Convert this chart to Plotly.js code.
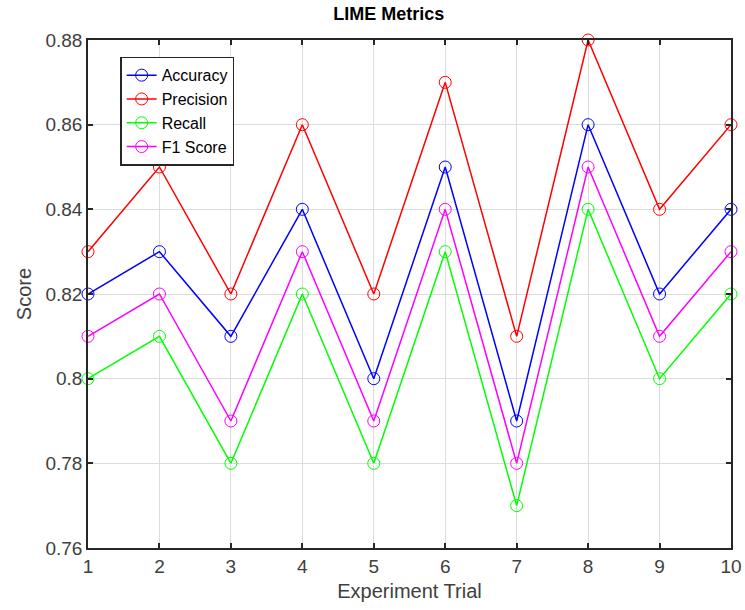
<!DOCTYPE html>
<html><head><meta charset="utf-8">
<script src="https://cdn.plot.ly/plotly-3.0.1.min.js"></script>
<style>body{margin:0;background:#fff}#c{width:745px;height:610px}</style>
</head><body><div id="c"></div>
<script>
const trials = [1,2,3,4,5,6,7,8,9,10];
const accuracy  = [0.82,0.83,0.81,0.84,0.80,0.85,0.79,0.86,0.82,0.84];
const precision = [0.83,0.85,0.82,0.86,0.82,0.87,0.81,0.88,0.84,0.86];
const recall    = [0.80,0.81,0.78,0.82,0.78,0.83,0.77,0.84,0.80,0.82];
const f1        = [0.81,0.82,0.79,0.83,0.79,0.84,0.78,0.85,0.81,0.83];
const names = ['Accuracy','Precision','Recall','F1 Score'];
const colors = ['#0000ff','#ff0000','#00ff00','#ff00ff'];
const series = [accuracy,precision,recall,f1];
const yTicks = [0.76,0.78,0.8,0.82,0.84,0.86,0.88];
const yTickText = ['0.76','0.78','0.8','0.82','0.84','0.86','0.88'];

const FONT = 'Liberation Sans, Arial, sans-serif';
const traces = series.map((s,i)=>({
  x: trials, y: s, name: names[i], type:'scatter', mode:'lines+markers',
  line:{color:colors[i], width:1.5},
  marker:{symbol:'circle-open', size:12, color:colors[i], line:{width:1, color:colors[i]}},
  cliponaxis:false
}));

const axisCommon = {
  showline:true, mirror:'ticks', linecolor:'#262626', linewidth:1.5,
  ticks:'inside', ticklen:5, tickcolor:'#262626', tickwidth:1.5,
  showgrid:true, gridcolor:'#dcdcdc', gridwidth:1, zeroline:false,
  tickfont:{family:FONT, size:19, color:'#404040'}
};

const layout = {
  width:745, height:610,
  margin:{l:88, r:14, t:40, b:62},
  paper_bgcolor:'#fff', plot_bgcolor:'#fff',
  title:{text:'<b>LIME Metrics</b>', font:{family:FONT, size:18, color:'#000'}, x:0.522, xanchor:'center', y:0.988, yanchor:'top'},
  xaxis: Object.assign({}, axisCommon, {range:[1,10], tickvals:trials, ticktext:trials.map(String),
    title:{text:'Experiment Trial', font:{family:FONT, size:20, color:'#404040'}, standoff:8}}),
  yaxis: Object.assign({}, axisCommon, {range:[0.76,0.88], tickvals:yTicks, ticktext:yTickText,
    title:{text:'Score', font:{family:FONT, size:20, color:'#404040'}, standoff:8}}),
  showlegend:true,
  legend:{x:0.05, y:0.967, xanchor:'left', yanchor:'top', bgcolor:'#fff', bordercolor:'#262626', borderwidth:1.5,
    font:{family:FONT, size:16, color:'#000'}, tracegroupgap:0}
};
Plotly.newPlot('c', traces, layout, {displayModeBar:false});
</script></body></html>
